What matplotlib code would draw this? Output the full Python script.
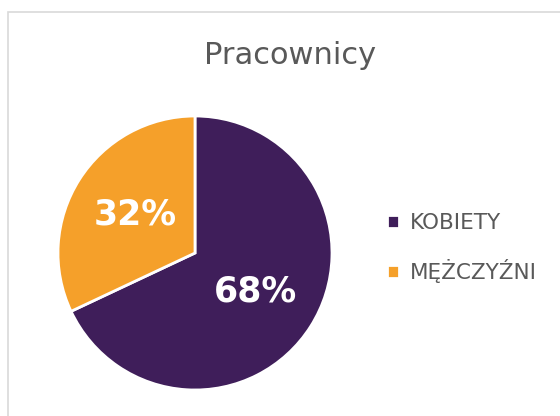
import matplotlib
matplotlib.use('Agg')
import matplotlib.pyplot as plt
from matplotlib.patches import Rectangle

labels = ['KOBIETY', 'MĘŻCZYŹNI']
values = [68, 32]
colors = ['#3F1E5A', '#F5A02A']

plt.rcParams['font.family'] = ['DejaVu Sans']

fig = plt.figure(figsize=(5.6, 4.16), dpi=100)

# light grey chart border, cut off at right/bottom like the reference
fig.patches.append(Rectangle((8 / 560, -0.1), 1.2, 1 - 12 / 416 + 0.1,
                             transform=fig.transFigure, fill=False,
                             edgecolor='#D9D9D9', linewidth=1.2))

ax = fig.add_axes([58 / 560, 1 - 390 / 416, 274 / 560, 274 / 416])
wedges, texts, autotexts = ax.pie(values, colors=colors, startangle=90,
                                  counterclock=False, autopct='%d%%',
                                  pctdistance=0.52,
                                  wedgeprops=dict(edgecolor='white', linewidth=2))
for t in autotexts:
    t.set_color('white')
    t.set_fontsize(25)
    t.set_fontweight('bold')
ax.set_xlim(-1, 1)
ax.set_ylim(-1, 1)
ax.set_aspect('equal')

fig.text(290 / 560, 1 - 55 / 416, 'Pracownicy', ha='center', va='center',
         fontsize=22, color='#595959')

fig.legend(wedges, labels, loc='center left',
           bbox_to_anchor=(368 / 560, 1 - 248 / 416), frameon=False,
           handlelength=0.55, handleheight=0.55, handletextpad=0.5,
           labelspacing=1.2, fontsize=15.5, labelcolor='#595959')

fig.savefig('out.png', dpi=100, facecolor='white')
